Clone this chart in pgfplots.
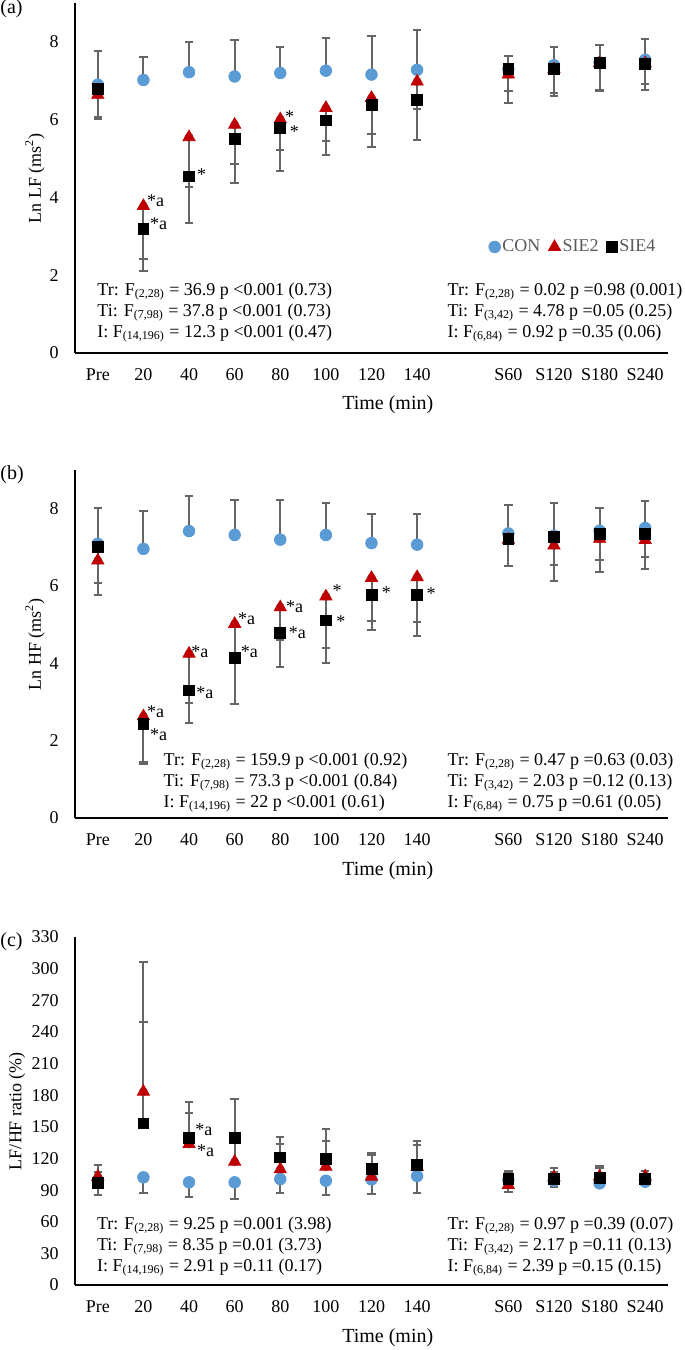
\documentclass[border=0pt]{standalone}
\usepackage{fontspec}
\setmainfont{Liberation Serif}
\usepackage{pgfplots}
\usepackage{pgfplotstable}
\pgfplotsset{compat=1.18}
\definecolor{conblue}{HTML}{5B9BD5}
\definecolor{siered}{HTML}{C00000}
\definecolor{ebgray}{HTML}{595959}
\definecolor{bargray}{HTML}{656565}
\newcommand\fs[1]{\fontsize{#1}{#1}\selectfont}
\newcommand\st[3]{\node[anchor=base west,inner sep=0pt,font=\fs{9}] at (#1pt,#2pt) {#3};}

\pgfplotstableread{
x con conE sie2 sie2E sie4 sie4E
0 6.90 0.86 6.64 0.58 6.79 0.76
1 7.02 0.59 3.78 1.37 3.20 1.08
2 7.22 0.79 5.55 1.29 4.54 1.19
3 7.11 0.93 5.87 1.01 5.50 1.13
4 7.20 0.68 6.01 0.80 5.78 1.09
5 7.26 0.85 6.30 0.85 5.98 0.88
6 7.16 1.00 6.56 0.92 6.37 1.08
7 7.28 1.03 6.98 0.71 6.51 1.03
9 7.30 0.35 7.16 0.41 7.30 0.86
10 7.40 0.48 7.30 0.62 7.31 0.71
11 7.47 0.44 7.45 0.68 7.47 0.72
12 7.54 0.54 7.45 0.53 7.43 0.66
}\dA

\pgfplotstableread{
x con conE sie2 sie2E sie4 sie4E
0 7.09 0.94 6.66 0.88 7.02 0.95
1 6.96 0.99 2.63 1.18 2.43 1.04
2 7.42 0.90 4.25 1.27 3.30 0.84
3 7.32 0.91 5.02 0.90 4.15 1.21
4 7.20 1.03 5.45 0.84 4.78 0.88
5 7.32 0.82 5.73 1.33 5.11 1.09
6 7.11 0.74 6.21 1.12 5.78 0.93
7 7.07 0.79 6.23 1.16 5.78 1.08
9 7.36 0.74 7.20 0.67 7.21 0.68
10 7.30 0.85 7.05 0.93 7.26 0.71
11 7.43 0.60 7.22 0.86 7.35 0.67
12 7.50 0.71 7.19 0.76 7.35 0.61
}\dB

\pgfplotstableread{
x con conE sie2 sie2E sie4 sie4E
0 99.0 13.7 102.7 11.4 97.0 10.4
1 102.1 14.5 183.3 122.7 153.3 95.8
2 97.4 14.2 133.7 29.1 139.7 33.5
3 97.4 16.2 116.9 18.0 139.7 36.4
4 100.5 12.9 109.7 23.7 121.1 19.0
5 98.9 13.9 112.2 24.4 119.8 28.1
6 100.2 14.2 102.7 20.3 110.0 15.5
7 103.4 16.4 112.0 20.8 113.8 22.8
9 100.0 12.1 94.8 11.0 100.8 7.6
10 99.0 5.8 102.0 9.3 100.5 6.5
11 96.4 3.2 103.0 8.0 101.2 11.6
12 98.0 3.2 103.0 5.0 100.5 7.9
}\dC

\tikzset{ann/.style={anchor=base west, inner sep=0pt, font=\fs{9}}}
\pgfplotsset{
  panel/.style={
    scale only axis, width=296.5pt, anchor=south west,
    xmin=-0.5, xmax=12.5, ymin=0,
    axis x line*=bottom, axis y line*=left,
    axis line style={line width=1.3pt, -},
    xtick={0,1,2,3,4,5,6,7,9,10,11,12},
    xticklabels={Pre,20,40,60,80,100,120,140,S60,S120,S180,S240},
    major tick length=0pt,
    /pgf/number format/assume math mode=true,
    tick label style={font=\fs{9}, inner sep=0pt},
    xticklabel style={anchor=base, yshift=-13.75pt},
    yticklabel style={anchor=east, xshift=-8pt},
    clip=false,
  },
  ebar/.style={only marks, mark=none, forget plot, color=bargray,
    error bars/.cd, y dir=#1, y explicit,
    error bar style={draw=bargray, line width=1pt},
    error mark options={draw=bargray, line width=1pt, mark size=2.1pt, rotate=90}},
  mklegend/.style={legend image code/.code={\draw[##1] plot coordinates {(0pt,0pt)};}},
  conmk/.style={only marks, mark=*, mark size=2.9pt, color=conblue, mklegend},
  s2mk/.style={only marks, mark=triangle*, mark size=3.5pt, color=siered, mklegend},
  s4mk/.style={only marks, mark=square*, mark size=2.7pt, color=black, mklegend},
}

\begin{document}
\begin{tikzpicture}
\useasboundingbox (0,0) rectangle (342.5pt,-675pt);

% ---------------- (a)
\begin{axis}[panel, at={(37.5pt,-176.5pt)}, height=175pt, ymax=9, ytick={0,2,4,6,8},
  legend style={at={(axis description cs:0.84,0.303)}, anchor=center, draw=none, fill=none,
    legend columns=3, font=\fs{9}, text=ebgray, inner sep=0pt,
    /tikz/every even column/.append style={column sep=3pt}, nodes={inner sep=1pt}}]
\addplot[ebar=plus] table[x=x,y=con,y error=conE]{\dA};
\addplot[ebar=minus] table[x=x,y=sie2,y error=sie2E]{\dA};
\addplot[ebar=minus] table[x=x,y=sie4,y error=sie4E]{\dA};
\addplot[conmk] table[x=x,y=con]{\dA};
\addplot[s2mk] table[x=x,y=sie2]{\dA};
\addplot[s4mk] table[x=x,y=sie4]{\dA};
\legend{CON,SIE2,SIE4}
\node[ann] at (axis cs:1.07,3.76) {*a};
\node[ann] at (axis cs:1.14,3.17) {*a};
\node[ann] at (axis cs:2.17,4.43) {*};
\node[ann] at (axis cs:4.10,5.94) {*};
\node[ann] at (axis cs:4.20,5.54) {*};
\end{axis}

% ---------------- (b)
\begin{axis}[panel, at={(37.5pt,-409pt)}, height=174pt, ymax=9, ytick={0,2,4,6,8}]
\addplot[ebar=plus] table[x=x,y=con,y error=conE]{\dB};
\addplot[ebar=minus] table[x=x,y=sie2,y error=sie2E]{\dB};
\addplot[ebar=minus] table[x=x,y=sie4,y error=sie4E]{\dB};
\addplot[conmk] table[x=x,y=con]{\dB};
\addplot[s2mk] table[x=x,y=sie2]{\dB};
\addplot[s4mk] table[x=x,y=sie4]{\dB};
\node[ann] at (axis cs:1.07,2.61) {*a};
\node[ann] at (axis cs:1.14,2.01) {*a};
\node[ann] at (axis cs:2.04,4.16) {*a};
\node[ann] at (axis cs:2.15,3.09) {*a};
\node[ann] at (axis cs:3.07,5.01) {*a};
\node[ann] at (axis cs:3.13,4.16) {*a};
\node[ann] at (axis cs:4.12,5.32) {*a};
\node[ann] at (axis cs:4.18,4.65) {*a};
\node[ann] at (axis cs:5.14,5.73) {*};
\node[ann] at (axis cs:5.22,4.94) {*};
\node[ann] at (axis cs:6.22,5.67) {*};
\node[ann] at (axis cs:7.20,5.65) {*};
\end{axis}

% ---------------- (c)
\begin{axis}[panel, at={(37.5pt,-642.5pt)}, height=174pt, ymax=330, ytick={0,30,...,330}]
\addplot[ebar=minus] table[x=x,y=con,y error=conE]{\dC};
\addplot[ebar=plus] table[x=x,y=sie2,y error=sie2E]{\dC};
\addplot[ebar=plus] table[x=x,y=sie4,y error=sie4E]{\dC};
\addplot[conmk] table[x=x,y=con]{\dC};
\addplot[s2mk] table[x=x,y=sie2]{\dC};
\addplot[s4mk] table[x=x,y=sie4]{\dC};
\node[ann] at (axis cs:2.13,141.6) {*a};
\node[ann] at (axis cs:2.17,122.3) {*a};
\end{axis}

% labels
\node[anchor=base west,inner sep=0pt,font=\fs{10}] at (0pt,-6.9pt) {(a)};
\node[anchor=base west,inner sep=0pt,font=\fs{10}] at (0pt,-239.7pt) {(b)};
\node[anchor=base west,inner sep=0pt,font=\fs{10}] at (0pt,-473.2pt) {(c)};
\node[rotate=90,font=\fs{9}] at (17.5pt,-89pt) {Ln LF (ms\textsuperscript{2})};
\node[rotate=90,font=\fs{9}] at (17.5pt,-322pt) {Ln HF (ms\textsuperscript{2})};
\node[rotate=90,font=\fs{9}] at (8.5pt,-555.5pt) {LF/HF ratio (\%)};
\node[anchor=base,inner sep=0pt,font=\fs{10}] at (193.9pt,-204.5pt) {Time (min)};
\node[anchor=base,inner sep=0pt,font=\fs{10}] at (193.9pt,-437.5pt) {Time (min)};
\node[anchor=base,inner sep=0pt,font=\fs{10}] at (193.9pt,-671pt) {Time (min)};

% stats (a)
\st{48.5}{-147.75}{Tr: F\textsubscript{(2,28)} = 36.9 p <0.001 (0.73)}
\st{48.5}{-158.25}{Ti: F\textsubscript{(7,98)} = 37.8 p <0.001 (0.73)}
\st{48.5}{-168.75}{I: F\textsubscript{(14,196)} = 12.3 p <0.001 (0.47)}
\st{223.65}{-147.75}{Tr: F\textsubscript{(2,28)} = 0.02 p =0.98 (0.001)}
\st{223.65}{-158.25}{Ti: F\textsubscript{(3,42)} = 4.78 p =0.05 (0.25)}
\st{223.65}{-168.75}{I: F\textsubscript{(6,84)} = 0.92 p =0.35 (0.06)}
% stats (b)
\st{81.65}{-382.75}{Tr: F\textsubscript{(2,28)} = 159.9 p <0.001 (0.92)}
\st{81.65}{-393.25}{Ti: F\textsubscript{(7,98)} = 73.3 p <0.001 (0.84)}
\st{81.65}{-403.75}{I: F\textsubscript{(14,196)} = 22 p <0.001 (0.61)}
\st{223.65}{-382.75}{Tr: F\textsubscript{(2,28)} = 0.47 p =0.63 (0.03)}
\st{223.65}{-393.25}{Ti: F\textsubscript{(3,42)} = 2.03 p =0.12 (0.13)}
\st{223.65}{-403.75}{I: F\textsubscript{(6,84)} = 0.75 p =0.61 (0.05)}
% stats (c)
\st{48.35}{-614.75}{Tr: F\textsubscript{(2,28)} = 9.25 p =0.001 (3.98)}
\st{48.35}{-625.25}{Ti: F\textsubscript{(7,98)} = 8.35 p =0.01 (3.73)}
\st{48.35}{-635.5}{I: F\textsubscript{(14,196)} = 2.91 p =0.11 (0.17)}
\st{223.65}{-614.75}{Tr: F\textsubscript{(2,28)} = 0.97 p =0.39 (0.07)}
\st{223.65}{-625.25}{Ti: F\textsubscript{(3,42)} = 2.17 p =0.11 (0.13)}
\st{223.65}{-635.5}{I: F\textsubscript{(6,84)} = 2.39 p =0.15 (0.15)}
\end{tikzpicture}
\end{document}
